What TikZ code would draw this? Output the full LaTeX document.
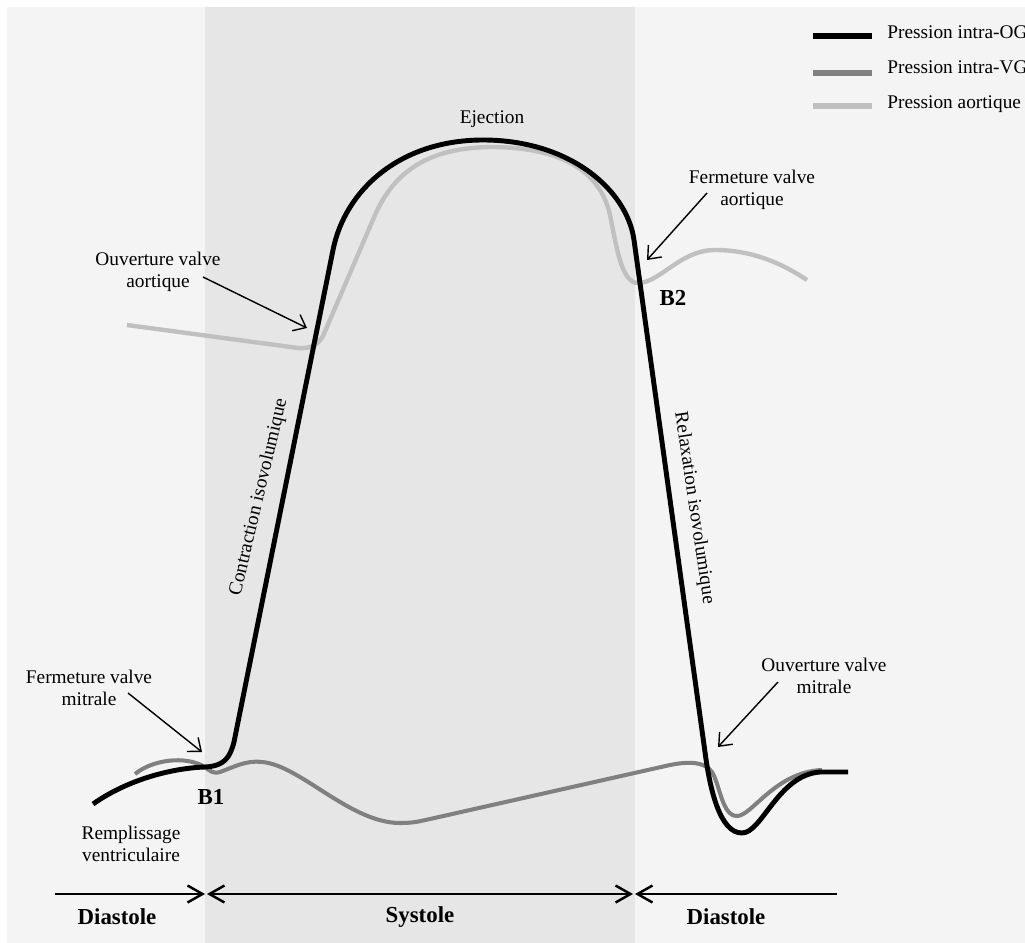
\documentclass[tikz,border=0pt]{standalone}
\usepackage{fontspec}
\setmainfont{Liberation Serif}
\usetikzlibrary{arrows.meta}
\definecolor{paneGrey}{HTML}{F4F4F4}
\definecolor{bandGrey}{HTML}{E6E6E6}
\definecolor{vgGrey}{HTML}{808080}
\definecolor{aoGrey}{HTML}{C0C0C0}

\begin{document}
\begin{tikzpicture}[x=0.02cm, y=-0.02cm,
    lbl/.style = {align=center, inner sep=0pt, font=\fontsize{11}{12.5}\selectfont},
    bold/.style = {inner sep=0pt, font=\fontsize{13}{15}\selectfont\bfseries},
    og/.style = {black, line width=2.8pt, line join=round},
    vg/.style = {vgGrey, line width=2.3pt, line join=round},
    ao/.style = {aoGrey, line width=2.5pt, line join=round},
    pointer/.style = {line width=0.8pt, -{Straight Barb[length=2.2mm, width=3.6mm]}},
    phase/.style = {line width=1.4pt, >={Straight Barb[length=3mm, width=3.4mm]}}]
    \useasboundingbox (0,0) rectangle (1025,943);
    \fill[white] (0,0) rectangle (1025,943);
    \fill[paneGrey] (7,7) rectangle (1025,943);
    \fill[bandGrey] (205,7) rectangle (635,943);

    % pression aortique
    \draw[ao] (127,325) -- (298,348) .. controls (310,349) and (318,345) .. (323,336)
        -- (375,215) .. controls (395,170) and (430,148) .. (490,147)
        .. controls (560,147) and (600,170) .. (610,215)
        .. controls (617,250) and (622,283) .. (638,283)
        .. controls (660,283) and (680,250) .. (715,250)
        .. controls (750,250) and (780,262) .. (807,280);

    % pression intra-VG
    \draw[vg] (135,774) .. controls (152,760) and (185,755) .. (205,767)
        .. controls (210,771) and (213,774) .. (220,772)
        .. controls (232,768) and (245,760) .. (262,762)
        .. controls (300,765) and (350,823) .. (400,823)
        .. controls (415,823) and (420,821) .. (430,819)
        -- (670,765) .. controls (690,761) and (705,762) .. (712,772)
        .. controls (720,785) and (722,816) .. (737,816)
        .. controls (752,816) and (775,772) .. (822,770);

    % pression intra-OG
    \draw[og] (93,804) .. controls (130,778) and (175,768) .. (205,767)
        .. controls (225,766) and (230,757) .. (234,742)
        -- (333,250) .. controls (345,190) and (400,140) .. (483,140)
        .. controls (570,140) and (627,190) .. (634,240)
        -- (705,752) .. controls (710,790) and (720,833) .. (742,833)
        .. controls (762,833) and (778,775) .. (820,772) -- (848,772);

    % legende
    \draw[og, line width=3.4pt] (813,36) -- (872,36);
    \draw[vg, line width=3pt] (813,73) -- (872,73);
    \draw[ao, line width=3pt] (813,106) -- (872,106);
    \node [lbl, anchor=base west] (legOG) at (887,38) {Pression intra-OG};
    \node [lbl, anchor=base west] (legVG) at (887,73) {Pression intra-VG};
    \node [lbl, anchor=base west] (legAo) at (887,108) {Pression aortique};

    % etiquettes
    \node [lbl] (eject) at (492,119) {Ejection};
    \node [bold] (b1) at (211,797) {B1};
    \node [bold] (b2) at (673,298) {B2};
    \node [lbl] (rempl) at (131,844) {Remplissage\\ventriculaire};
    \node [lbl, rotate=76.7] (contr) at (259,497) {Contraction isovolumique};
    \node [lbl, rotate=-81.5] (relax) at (694,508) {Relaxation isovolumique};

    \node [lbl] (fvm) at (89,688) {Fermeture valve\\mitrale};
    \node [lbl] (ova) at (158,272) {Ouverture valve\\aortique};
    \node [lbl] (fva) at (752,190) {Fermeture valve\\aortique};
    \node [lbl] (ovm) at (824,676) {Ouverture valve\\mitrale};

    \coordinate (fvmT) at (128,693);
    \coordinate (fvmH) at (202,752);
    \coordinate (ovaT) at (203,277);
    \coordinate (ovaH) at (307,328);
    \coordinate (fvaT) at (707,193);
    \coordinate (fvaH) at (647,260);
    \coordinate (ovmT) at (778,682);
    \coordinate (ovmH) at (718,747);

    \draw[pointer] (fvmT) -- (fvmH);
    \draw[pointer] (ovaT) -- (ovaH);
    \draw[pointer] (fvaT) -- (fvaH);
    \draw[pointer] (ovmT) -- (ovmH);

    % phases
    \coordinate (diaL) at (55,894);
    \coordinate (sysL) at (205,894);
    \coordinate (sysL2) at (207,894);
    \coordinate (sysR2) at (633,894);
    \coordinate (sysR) at (635,894);
    \coordinate (diaR) at (837,894);

    \draw[phase, ->] (diaL) -- (sysL);
    \draw[phase, <->] (sysL2) -- (sysR2);
    \draw[phase, ->] (diaR) -- (sysR);

    \node [bold] (dia1) at (117,917) {Diastole};
    \node [bold] (sys) at (420,917) {Systole};
    \node [bold] (dia2) at (726,917) {Diastole};

\end{tikzpicture}
\end{document}
